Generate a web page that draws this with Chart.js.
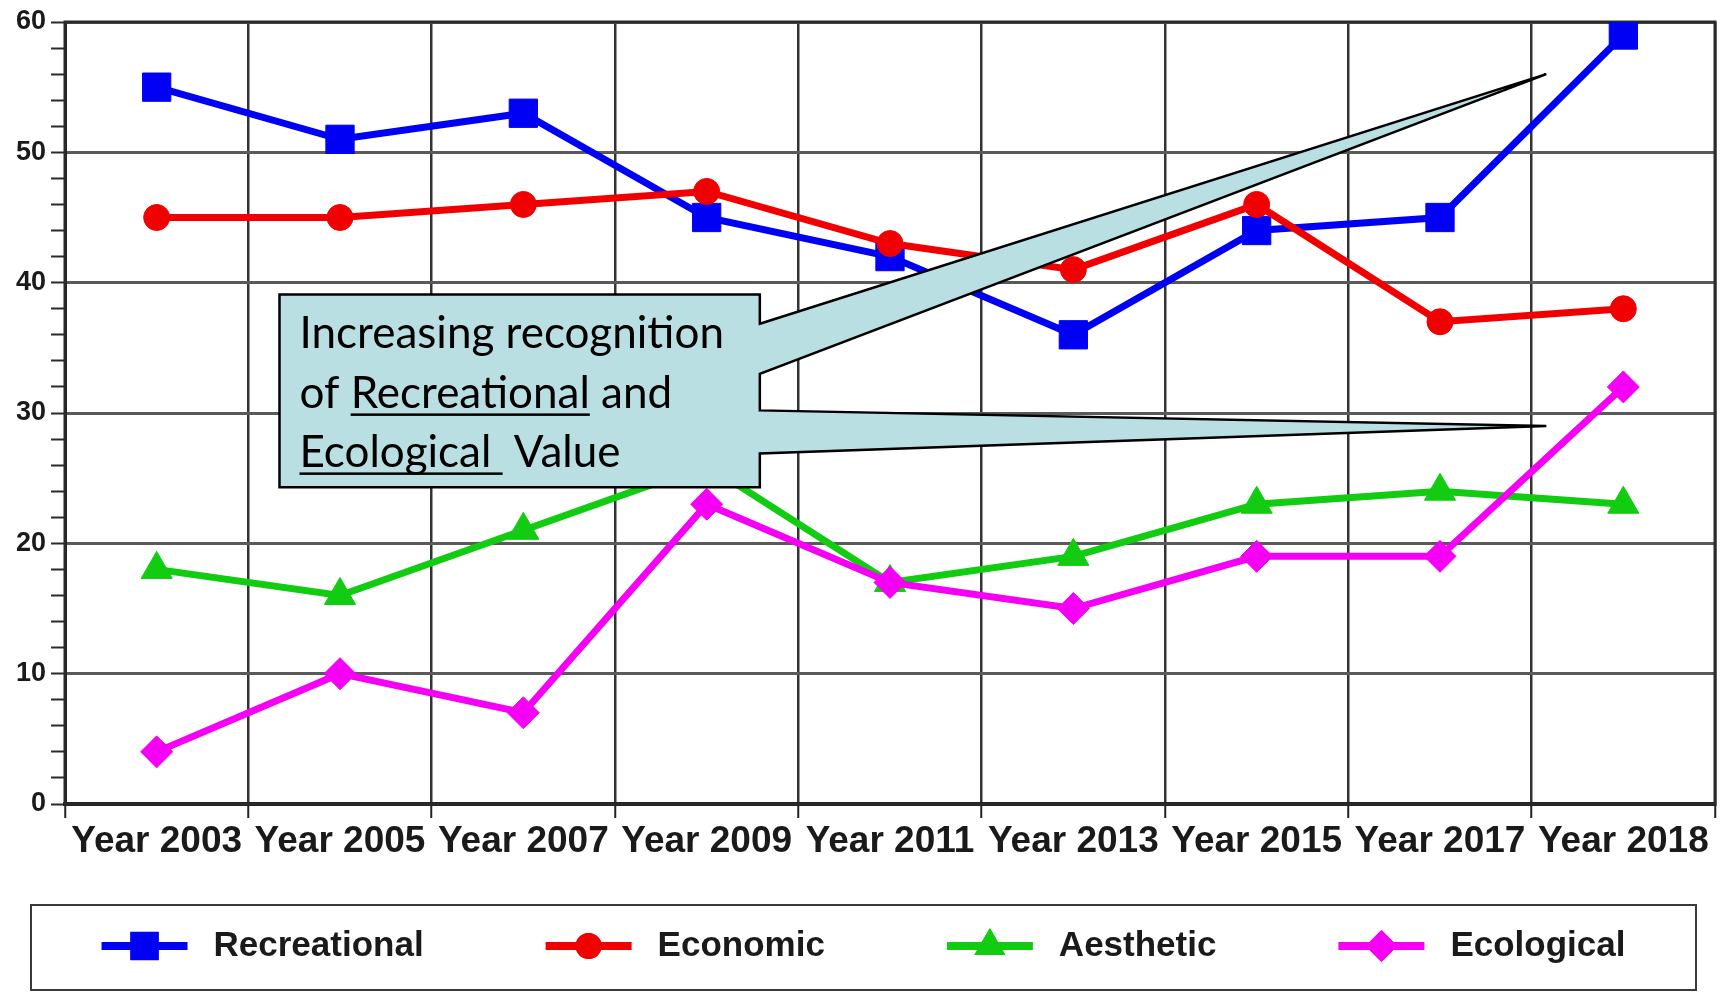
<!DOCTYPE html>
<html>
<head>
<meta charset="utf-8">
<title>Values over time</title>
<script src="https://cdn.jsdelivr.net/npm/chart.js@4.4.1/dist/chart.umd.min.js"></script>
<style>
  html, body { margin: 0; padding: 0; background: #fff; }
  #wrap { width: 1727px; height: 993px; }
</style>
</head>
<body>
<div id="wrap"><canvas id="myChart" width="1727" height="993"></canvas></div>
<script>
const years = ["Year 2003", "Year 2005", "Year 2007", "Year 2009", "Year 2011", "Year 2013", "Year 2015", "Year 2017", "Year 2018"];
const recreational = [55, 51, 53, 45, 42, 36, 44, 45, 59];
const economic = [45, 45, 46, 47, 43, 41, 46, 37, 38];
const aesthetic = [18, 16, 21, 26, 17, 19, 23, 24, 23];
const ecological = [4, 10, 7, 23, 17, 15, 19, 19, 32];
const seriesNames = ["Recreational", "Economic", "Aesthetic", "Ecological"];
const yLabels = [0, 10, 20, 30, 40, 50, 60];

const calloutLines = [
    [{ text: "Increasing recognition" }],
    [{ text: "of " }, { text: "Recreational", u: true }, { text: " and" }],
    [{ text: "Ecological ", u: true }, { text: " Value" }]
];

const AXIS_FONT = "'Liberation Sans', Arial, sans-serif";

function markerRadius(style){
    if (style === "rect") return 20;
    if (style === "circle") return 13;
    if (style === "triangle") return 18;
    return 16;
}

function makeSet(label, data, color, style, order){
    return {
        label: label,
        data: data,
        borderColor: color,
        backgroundColor: color,
        borderWidth: 7,
        tension: 0,
        pointStyle: style,
        pointRadius: markerRadius(style),
        pointHoverRadius: markerRadius(style),
        pointBackgroundColor: color,
        pointBorderColor: color,
        pointBorderWidth: 1,
        order: order
    };
}

// plot frame, drawn under the lines
const frame = {
    id: "frame",
    beforeDatasetsDraw(chart){
        const { ctx, chartArea: a } = chart;
        ctx.save();
        ctx.strokeStyle = "#2a2a2a";
        ctx.lineWidth = 3;
        ctx.strokeRect(a.left, a.top, a.right - a.left, a.bottom - a.top);
        ctx.restore();
    }
};

// the text box with two pointers
const callout = {
    id: "callout",
    afterDatasetsDraw(chart){
        const { ctx, scales: { x, y } } = chart;
        const left = x.getPixelForValue(0.67);
        const right = x.getPixelForValue(3.29);
        const top = y.getPixelForValue(39.1);
        const bottom = y.getPixelForValue(24.3);
        const tipX = x.getPixelForValue(7.58);

        ctx.save();
        ctx.beginPath();
        ctx.moveTo(left, top);
        ctx.lineTo(right, top);
        ctx.lineTo(right, y.getPixelForValue(36.85));
        ctx.lineTo(tipX, y.getPixelForValue(56.0));
        ctx.lineTo(right, y.getPixelForValue(33.0));
        ctx.lineTo(right, y.getPixelForValue(30.2));
        ctx.lineTo(tipX, y.getPixelForValue(29.0));
        ctx.lineTo(right, y.getPixelForValue(26.9));
        ctx.lineTo(right, bottom);
        ctx.lineTo(left, bottom);
        ctx.closePath();
        ctx.fillStyle = "#badfe3";
        ctx.fill();
        ctx.lineWidth = 2.5;
        ctx.strokeStyle = "#000";
        ctx.lineJoin = "miter";
        ctx.stroke();

        ctx.font = "44px Lato, 'Open Sans', sans-serif";
        ctx.fillStyle = "#000";
        ctx.textBaseline = "alphabetic";
        ctx.textAlign = "left";
        const baselines = [54, 114, 173];
        calloutLines.forEach((line, i) => {
            let cx = left + 20;
            const by = top + baselines[i];
            line.forEach(seg => {
                const w = ctx.measureText(seg.text).width;
                ctx.fillText(seg.text, cx, by);
                if (seg.u) {
                    ctx.fillRect(cx, by + 5, w, 2.5);
                }
                cx += w;
            });
        });
        ctx.restore();
    }
};

function drawMarker(ctx, style, r, cx, cy){
    if (Chart.helpers && Chart.helpers.drawPoint) {
        Chart.helpers.drawPoint(ctx, { pointStyle: style, radius: r, rotation: 0, borderWidth: 0 }, cx, cy);
        ctx.fill();
        return;
    }
    ctx.beginPath();
    ctx.arc(cx, cy, r, 0, Math.PI * 2);
    ctx.fill();
}

// legend in a box under the chart
const boxLegend = {
    id: "boxLegend",
    afterDraw(chart){
        const { ctx, width } = chart;
        const sets = chart.data.datasets;
        ctx.save();
        ctx.strokeStyle = "#3a3a3a";
        ctx.lineWidth = 2;
        ctx.strokeRect(31, 905, 1665, 85);

        ctx.font = "bold 35px " + AXIS_FONT;
        const sample = 86, gapText = 26, gapItem = 122;
        const widths = sets.map(s => ctx.measureText(s.label).width);
        let total = widths.reduce((a, w) => a + w + sample + gapText, 0) + gapItem * (sets.length - 1);
        let cx = (width - total) / 2;
        const cy = 946;
        sets.forEach((s, i) => {
            ctx.strokeStyle = s.borderColor;
            ctx.fillStyle = s.borderColor;
            ctx.lineWidth = 8;
            ctx.beginPath();
            ctx.moveTo(cx, cy);
            ctx.lineTo(cx + sample, cy);
            ctx.stroke();
            drawMarker(ctx, s.pointStyle, s.pointRadius, cx + sample / 2, cy);
            ctx.fillStyle = "#1a1a1a";
            ctx.textBaseline = "middle";
            ctx.textAlign = "left";
            ctx.fillText(s.label, cx + sample + gapText, cy);
            cx += sample + gapText + widths[i] + gapItem;
        });
        ctx.restore();
    }
};

new Chart("myChart", {
    type: "line",
    data: {
        labels: years,
        datasets: [
            makeSet(seriesNames[0], recreational, "#0000f5", "rect", 4),
            makeSet(seriesNames[1], economic, "#f00000", "circle", 3),
            makeSet(seriesNames[2], aesthetic, "#11cc11", "triangle", 2),
            makeSet(seriesNames[3], ecological, "#f500f5", "rectRot", 1)
        ]
    },
    options: {
        responsive: false,
        animation: false,
        layout: { autoPadding: false, padding: { left: 0, top: 22, right: 12, bottom: 129 } },
        plugins: {
            legend: { display: false },
            tooltip: { enabled: false }
        },
        scales: {
            x: {
                offset: true,
                grid: {
                    offset: true,
                    color: "#333",
                    lineWidth: 2.5,
                    tickLength: 14,
                    tickColor: "#222",
                    tickWidth: 2
                },
                border: { display: true, color: "#1a1a1a", width: 4 },
                ticks: {
                    autoSkip: false,
                    maxRotation: 0,
                    minRotation: 0,
                    padding: 2,
                    color: "#1a1a1a",
                    font: { family: AXIS_FONT, size: 37, weight: "bold" }
                },
                afterFit(scale){
                    scale.height = 60;
                    scale.paddingLeft = 0;
                    scale.paddingRight = 0;
                }
            },
            y: {
                min: 0,
                max: 60,
                grid: {
                    color: ctx => (ctx.tick && ctx.tick.value % 10 === 0) ? "#5a5a5a" : "rgba(0,0,0,0)",
                    lineWidth: 3,
                    tickLength: 14,
                    tickColor: "#2a2a2a",
                    tickWidth: 2
                },
                border: { display: true, color: "#1a1a1a", width: 3 },
                ticks: {
                    stepSize: 2,
                    autoSkip: false,
                    padding: 5,
                    color: "#1a1a1a",
                    font: { family: AXIS_FONT, size: 27, weight: "bold" },
                    callback: v => yLabels.includes(v) ? v : ""
                },
                afterFit(scale){ scale.width = 65; }
            }
        }
    },
    plugins: [frame, callout, boxLegend]
});
</script>
</body>
</html>
